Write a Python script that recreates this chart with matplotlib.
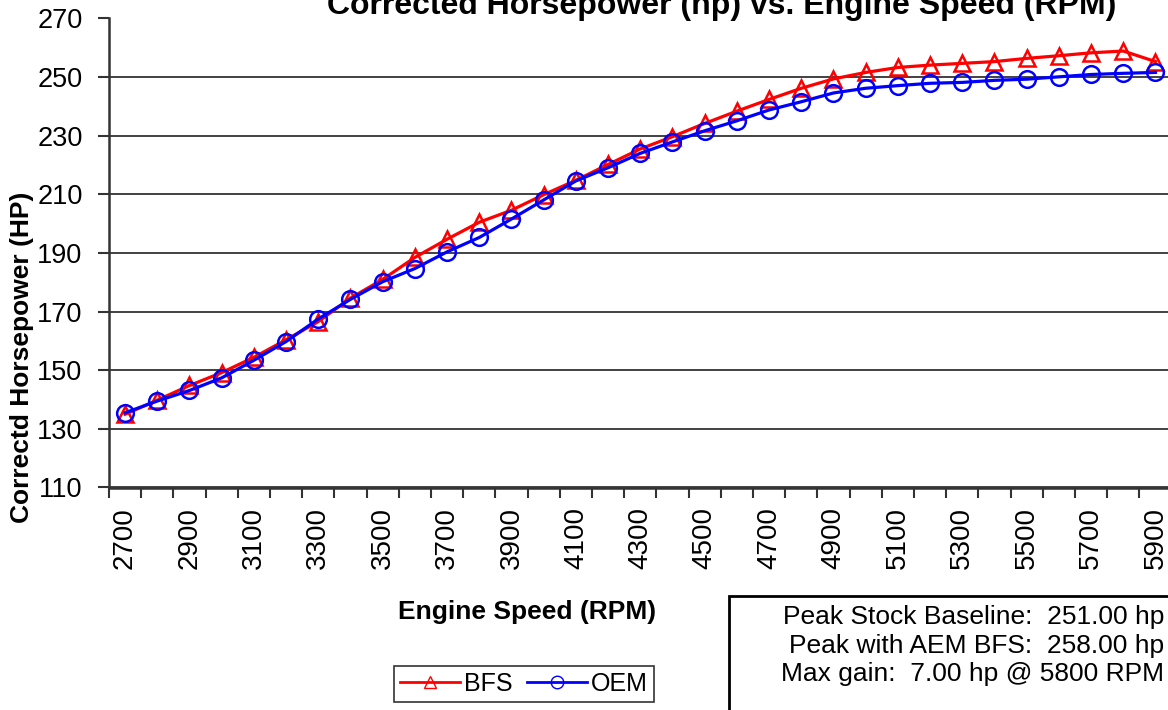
import matplotlib
matplotlib.use("Agg")
import matplotlib.pyplot as plt
from matplotlib.patches import Rectangle
from matplotlib.lines import Line2D

plt.rcParams['font.family'] = ['Liberation Sans', 'DejaVu Sans']

rpm = [2700, 2800, 2900, 3000, 3100, 3200, 3300, 3400, 3500, 3600, 3700,
       3800, 3900, 4000, 4100, 4200, 4300, 4400, 4500, 4600, 4700, 4800,
       4900, 5000, 5100, 5200, 5300, 5400, 5500, 5600, 5700, 5800, 5900]

bfs = [135.0, 139.8, 144.8, 149.2, 154.4, 160.4, 166.6, 174.6, 181.0, 188.5,
       194.7, 200.5, 204.6, 209.9, 214.8, 220.2, 225.5, 229.7, 234.2, 238.4,
       242.4, 246.2, 249.4, 251.6, 253.3, 254.1, 254.7, 255.3, 256.4, 257.3,
       258.3, 258.9, 255.3]

oem = [135.5, 139.5, 143.1, 147.4, 153.4, 159.8, 167.5, 174.2, 180.2, 184.7,
       190.4, 195.3, 201.6, 208.1, 214.6, 219.1, 224.0, 227.9, 231.7, 235.1,
       238.8, 241.6, 244.6, 246.2, 247.1, 247.9, 248.2, 248.9, 249.3, 250.1,
       250.9, 251.3, 251.6]

y_ticks = [110, 130, 150, 170, 190, 210, 230, 250, 270]

summary = ["Peak Stock Baseline:  251.00 hp",
           "Peak with AEM BFS:  258.00 hp",
           "Max gain:  7.00 hp @ 5800 RPM"]

W, H = 1168, 710
fig = plt.figure(figsize=(W / 100, H / 100), dpi=100)
ax = fig.add_axes([109 / W, (H - 487.5) / H, 1062.6 / W, 469 / H])

x = list(range(len(rpm)))
ax.plot(x, bfs, color='red', lw=2.3, marker='^', ms=12, mfc='none',
        mec='red', mew=1.8, label='BFS', zorder=3)
ax.plot(x, oem, color='blue', lw=2.3, marker='o', ms=12, mfc='none',
        mec='blue', mew=1.8, label='OEM', zorder=4)

ax.set_xlim(-0.5, len(rpm) - 0.5)
ax.set_ylim(110, 270)
ax.set_yticks(y_ticks)
ax.set_yticklabels([str(v) for v in y_ticks], fontsize=19.5)
ax.tick_params(axis='y', length=8, width=1.5, pad=11, color='#333333')

# category axis: tick marks between categories, labels on every other category
ax.set_xticks([i - 0.5 for i in range(len(rpm) + 1)])
ax.set_xticklabels([])
ax.set_xticks(x[::2], minor=True)
ax.set_xticklabels([str(r) for r in rpm[::2]], minor=True, rotation=90,
                   fontsize=20)
ax.tick_params(axis='x', which='major', length=7, width=1.5, color='#333333')
ax.tick_params(axis='x', which='minor', length=0, pad=14)

ax.grid(axis='y', color='#333333', lw=1.3)
ax.set_axisbelow(True)
for s in ['top', 'right']:
    ax.spines[s].set_visible(False)
for s in ['left', 'bottom']:
    ax.spines[s].set_color('#333333')
    ax.spines[s].set_linewidth(1.8)

fig.text(722 / W, 1 - 14 / H, "Corrected Horsepower (hp) vs. Engine Speed (RPM)",
         fontsize=23, fontweight='bold', ha='center', va='baseline')
fig.text(22 / W, 1 - 357 / H, "Correctd Horsepower (HP)", fontsize=19,
         fontweight='bold', rotation=90, ha='center', va='center')
fig.text(527 / W, 1 - 612 / H, "Engine Speed (RPM)", fontsize=19,
         fontweight='bold', ha='center', va='center')

handles = [Line2D([], [], color='red', lw=2, marker='^', ms=9, mfc='none', mec='red'),
           Line2D([], [], color='blue', lw=2, marker='o', ms=9, mfc='none', mec='blue')]
leg = fig.legend(handles, ['BFS', 'OEM'], ncol=2, fontsize=18,
                 loc='center', bbox_to_anchor=(524 / W, 1 - 684 / H),
                 frameon=True, fancybox=False, edgecolor='black',
                 handlelength=2.4, handletextpad=0.15, columnspacing=0.6,
                 borderpad=0.25)
leg.get_frame().set_linewidth(1.2)

fig.patches.append(Rectangle((729 / W, -0.1), 0.5, (H - 596) / H + 0.1,
                             transform=fig.transFigure, fill=False,
                             edgecolor='black', lw=2))
for i, line in enumerate(summary):
    fig.text(1164 / W, 1 - (617 + 28.5 * i) / H, line, fontsize=19,
             ha='right', va='center')

fig.savefig("out.png", dpi=100)
